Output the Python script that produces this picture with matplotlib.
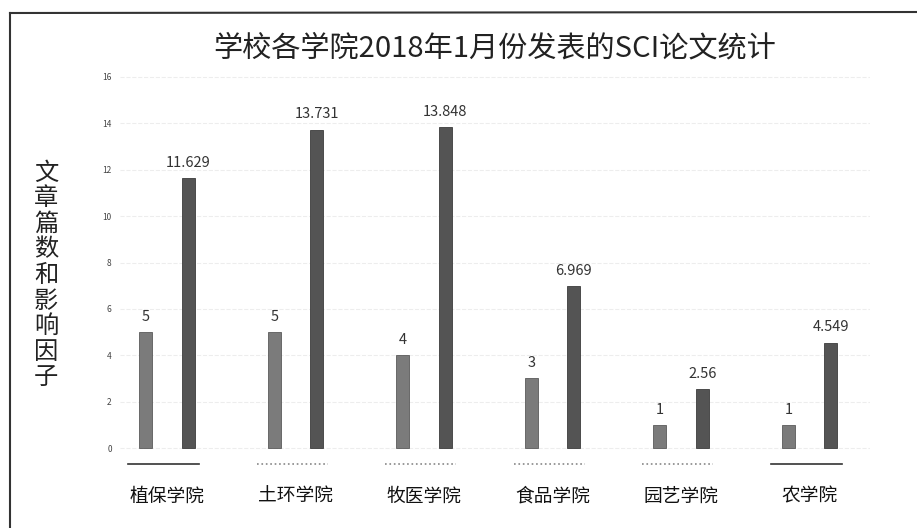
import numpy as np
import matplotlib
matplotlib.use("Agg")
from matplotlib import pyplot as plt
from matplotlib.lines import Line2D

plt.rcParams['font.family'] = ['Noto Sans CJK SC', 'DejaVu Sans']

colleges = ['植保学院', '土环学院', '牧医学院', '食品学院', '园艺学院', '农学院']
paper_counts = [5, 5, 4, 3, 1, 1]
impact_factors = [11.629, 13.731, 13.848, 6.969, 2.56, 4.549]
count_labels = ['5', '5', '4', '3', '1', '1']
impact_labels = ['11.629', '13.731', '13.848', '6.969', '2.56', '4.549']
y_ticks = [0, 2, 4, 6, 8, 10, 12, 14, 16]

W, H = 917, 528
fig = plt.figure(figsize=(W / 100, H / 100), dpi=100)

# axes placed in pixel terms of the reference
left_px, right_px, top_px, bottom_px = 120, 870, 70, 455
ax = fig.add_axes([left_px / W, (H - bottom_px) / H,
                   (right_px - left_px) / W, (bottom_px - top_px) / H])

x = np.arange(len(colleges))
offset = 0.165
width = 0.1

ax.bar(x - offset, paper_counts, width, color='#7b7b7b', edgecolor='#5a5a5a',
       linewidth=0.6, zorder=3)
ax.bar(x + offset, impact_factors, width, color='#545454', edgecolor='#3c3c3c',
       linewidth=0.6, zorder=3)

for xi, v, lab in zip(x, paper_counts, count_labels):
    ax.text(xi - offset, v + 0.35, lab, ha='center', va='bottom',
            fontsize=10.5, color='#333333')
for xi, v, lab in zip(x, impact_factors, impact_labels):
    ax.text(xi + offset, v + 0.35, lab, ha='center', va='bottom',
            fontsize=10.5, color='#333333')

# short separator lines under each group
styles = ['-', ':', ':', ':', ':', '-']
colors = ['#333333', '#888888', '#888888', '#888888', '#888888', '#333333']
for xi, ls, c in zip(x, styles, colors):
    ax.plot([xi - 0.3, xi + 0.25], [-0.68, -0.68], linestyle=ls, color=c,
            linewidth=1.2, clip_on=False)

ax.set_xlim(-0.365, 5.47)
ax.set_ylim(-0.3, 16.3)
ax.set_yticks(y_ticks)
ax.set_yticklabels([str(t) for t in y_ticks], fontsize=6, color='#444444')
ax.set_xticks(x)
ax.set_xticklabels(colleges, fontsize=13.5, color='#111111')
ax.tick_params(axis='both', length=0)
ax.tick_params(axis='x', pad=22)
ax.tick_params(axis='y', pad=6)
ax.grid(axis='y', color='#ededed', linestyle='--', linewidth=0.8, zorder=0)
for s in ax.spines.values():
    s.set_visible(False)

ax.set_title('学校各学院2018年1月份发表的SCI论文统计', fontsize=21,
             color='#222222', pad=10)

fig.text(46 / W, 1 - 275 / H, '\n'.join('文章篇数和影响因子'), ha='center',
         va='center', fontsize=17.5, linespacing=0.98, color='#222222')

# scanned frame around the chart
fig.add_artist(Line2D([10 / W, 1.0], [1 - 13 / H, 1 - 12 / H],
                      transform=fig.transFigure, color='#333333', linewidth=1.5))
fig.add_artist(Line2D([10 / W, 10 / W], [1 - 13 / H, 0.0],
                      transform=fig.transFigure, color='#333333', linewidth=1.5))

plt.savefig('out.png', dpi=100)
plt.close()
